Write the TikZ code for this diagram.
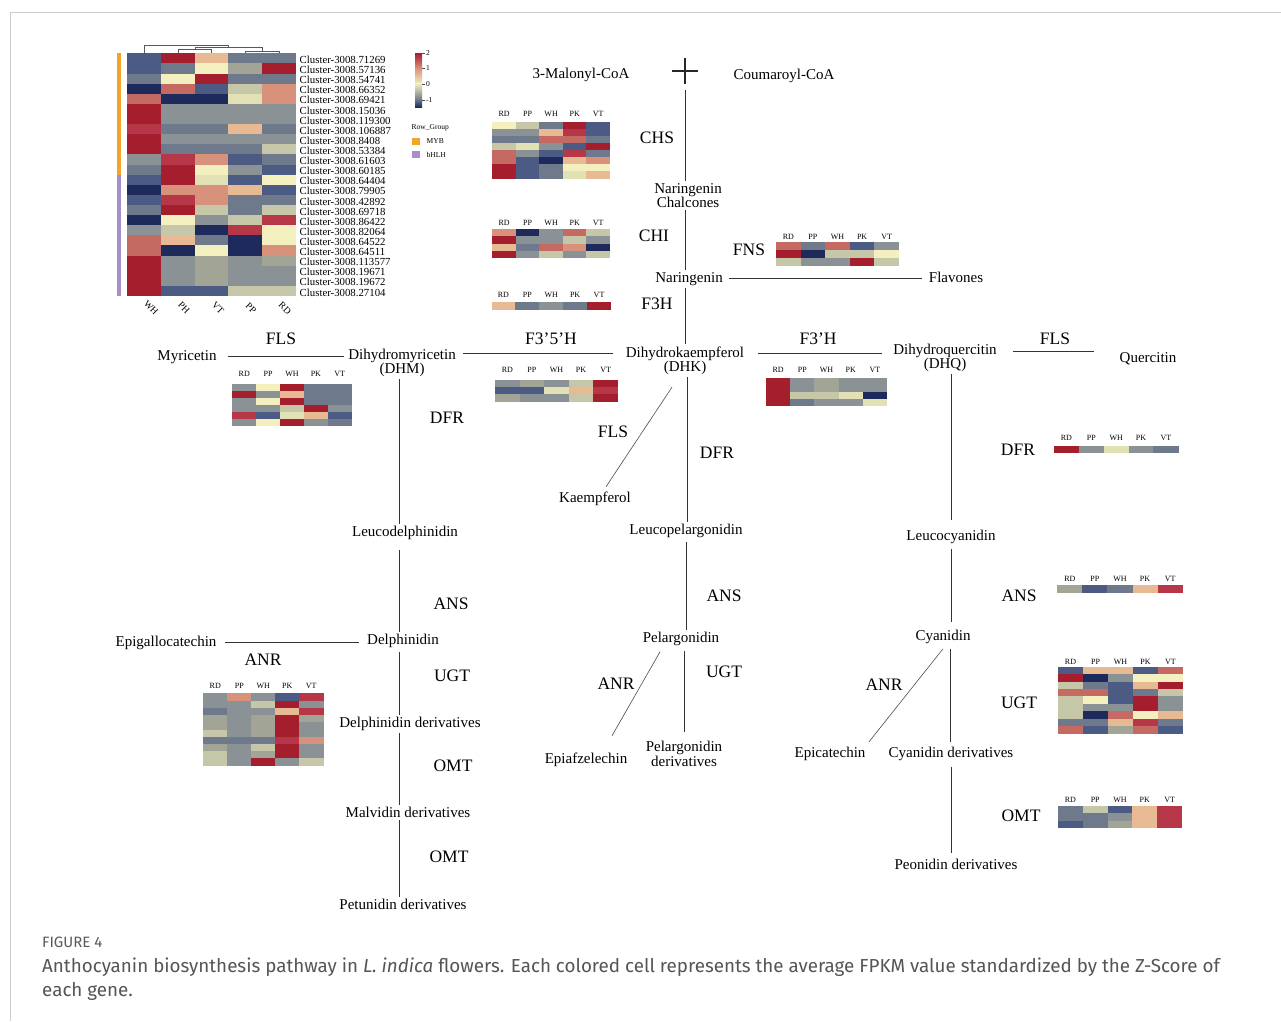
\documentclass[tikz,border=0pt]{standalone}
\usepackage{fontspec}
\setmainfont{Liberation Serif}
\newfontfamily\capfont{Fira Sans}
\usetikzlibrary{calc}
\definecolor{cN}{HTML}{1E2A5C}
\definecolor{cB}{HTML}{4B5B84}
\definecolor{cS}{HTML}{6E798C}
\definecolor{cG}{HTML}{8A9296}
\definecolor{cH}{HTML}{A2A595}
\definecolor{cL}{HTML}{C5C7A8}
\definecolor{cK}{HTML}{E2E1B5}
\definecolor{cY}{HTML}{F3EFBE}
\definecolor{cP}{HTML}{E8BA94}
\definecolor{cT}{HTML}{D8917A}
\definecolor{cO}{HTML}{C56A62}
\definecolor{cQ}{HTML}{B63848}
\definecolor{cR}{HTML}{A41E2E}
\definecolor{myb}{HTML}{F2A52B}
\definecolor{bhlh}{HTML}{A68FC9}
\definecolor{capgray}{HTML}{555555}
\newcommand{\hmap}[5]{%
  \foreach \rw [count=\ri] in {#5} {%
    \foreach \cl [count=\ci] in \rw {%
      \fill[\cl] ({#1+(\ci-1)*(#3)/5},{#2+(\ri-1)*(#4)}) rectangle ({#1+\ci*(#3)/5+0.3},{#2+\ri*(#4)+0.3});
    }
  }
}
\newcommand{\hlab}[4]{%
  \foreach \t [count=\ci] in {RD,PP,WH,PK,VT} {\node[hl] (#1-\ci) at ({#2+(\ci-0.5)*(#4)/5},#3) {\t};}
}
\begin{document}
\begin{tikzpicture}[x=1pt,y=-1pt,
  cmp/.style={font=\fontsize{15}{14.5}\selectfont, inner sep=2pt, align=center, yshift=-1.8pt},
  enz/.style={font=\fontsize{17.5}{18}\selectfont, inner sep=1pt, yshift=-1pt},
  clab/.style={font=\fontsize{10.8}{11}\selectfont, anchor=west, inner sep=0pt},
  hl/.style={font=\fontsize{8}{9}\selectfont, inner sep=0pt},
  lg/.style={font=\fontsize{7.5}{8}\selectfont, inner sep=0pt, anchor=west},
  ln/.style={line width=0.75pt, draw=black!80},
  dg/.style={line width=0.6pt, draw=black!70},
  ]
\useasboundingbox (0,0) rectangle (1281,1021);
\fill[white] (0,0) rectangle (1281,1021);
\draw[gray!40, line width=0.8pt] (1281,12) -- (10,12) -- (10,1021);

% ---------- big heatmap ----------
\hmap{127.3}{53.3}{168.4}{10.11}{
{cB,cR,cP,cS,cS},{cB,cS,cY,cH,cR},{cS,cY,cR,cS,cS},{cN,cO,cB,cL,cT},
{cO,cN,cN,cK,cT},{cR,cG,cG,cG,cG},{cR,cG,cG,cG,cG},{cQ,cS,cS,cP,cS},
{cR,cG,cG,cG,cG},{cR,cS,cS,cS,cL},{cG,cQ,cT,cB,cS},{cS,cR,cY,cG,cB},
{cB,cR,cK,cB,cY},{cN,cT,cT,cP,cB},{cB,cQ,cT,cS,cS},{cS,cR,cL,cS,cL},
{cN,cY,cG,cL,cQ},{cG,cL,cN,cQ,cY},{cO,cP,cS,cN,cY},{cO,cN,cY,cN,cT},
{cR,cG,cH,cG,cH},{cR,cG,cH,cG,cG},{cR,cG,cH,cG,cG},{cR,cB,cB,cL,cL}}
\fill[myb] (117,53.3) rectangle (120.5,174.6);
\fill[bhlh] (117,174.6) rectangle (120.5,296);
% dendrogram
\draw[gray!70!black, line width=0.6pt]
  (144.1,53.3) -- (144.1,45) -- (228.6,45) -- (228.6,47.5)
  (194.8,49.5) -- (194.8,47.5) -- (262.2,47.5) -- (262.2,51)
  (177.9,53.3) -- (177.9,49.5) -- (211.6,49.5) -- (211.6,53.3)
  (245.3,53.3) -- (245.3,51) -- (279.0,51) -- (279.0,53.3);
\foreach \n [count=\i] in {71269,57136,54741,66352,69421,15036,119300,106887,8408,53384,61603,60185,64404,79905,42892,69718,86422,82064,64522,64511,113577,19671,19672,27104}
  {\node[clab] (cl\i) at (299.5,{54.8+(\i-0.5)*10.11}) {Cluster-3008.\n};}
\foreach \t/\x [count=\i] in {WH/151,PH/184,VT/218,PP/251,RD/285}
  {\node[rotate=-45, font=\fontsize{9.5}{10}\selectfont, inner sep=0pt] (col\i) at (\x,308) {\t};}
% legend
\shade[top color=cR, bottom color=cT] (415,53) rectangle (422,68.5);
\shade[top color=cT, bottom color=cY] (415,68) rectangle (422,84);
\shade[top color=cY, bottom color=cS] (415,83.5) rectangle (422,100);
\shade[top color=cS, bottom color=cN] (415,99.5) rectangle (422,107);
\foreach \v/\y in {2/53.5,1/68.5,0/84,-1/100}
  {\draw[black!70, line width=0.4pt] (422,\y) -- (424.5,\y);
   \node[lg] (cb\v) at (426,\y) {\v};}
\node[lg] (rowgroup) at (411.5,127.5) {Row\_Group};
\fill[myb] (412.3,138) rectangle (419.5,145.3);
\node[lg] (mybl) at (426.5,141.5) {MYB};
\fill[bhlh] (412.3,150.8) rectangle (419.5,158.2);
\node[lg] (bhlhl) at (426.5,154.5) {bHLH};

% ---------- compounds ----------
\node[cmp] (mal) at (581,73) {3-Malonyl-CoA};
\node[cmp] (cou) at (784,74) {Coumaroyl-CoA};
\node[minimum size=26pt, inner sep=0pt] (plus) at (685,71) {};
\draw[black!85, line width=1.3pt] (plus.north) -- (plus.south) (plus.west) -- (plus.east);
\node[cmp] (chal) at (688,194) {Naringenin\\Chalcones};
\node[cmp] (nar) at (689,277) {Naringenin};
\node[cmp] (flav) at (956,276) {Flavones};
\node[cmp] (dhk) at (685,359) {Dihydrokaempferol\\(DHK)};
\node[cmp] (dhm) at (402,361) {Dihydromyricetin\\(DHM)};
\node[cmp] (myr) at (187,355) {Myricetin};
\node[cmp] (dhq) at (945,356) {Dihydroquercitin\\(DHQ)};
\node[cmp] (quer) at (1148,357) {Quercitin};
\node[cmp] (kaemp) at (595,497) {Kaempferol};
\node[cmp] (leucod) at (405,531) {Leucodelphinidin};
\node[cmp] (leucop) at (686,529) {Leucopelargonidin};
\node[cmp] (leucoc) at (951,535) {Leucocyanidin};
\node[cmp] (delph) at (403,639) {Delphinidin};
\node[cmp] (epigal) at (166,641) {Epigallocatechin};
\node[cmp] (delphd) at (410,722) {Delphinidin derivatives};
\node[cmp] (malv) at (408,811) {Malvidin derivatives};
\node[cmp] (petu) at (403,903) {Petunidin derivatives};
\node[cmp] (pel) at (681,637) {Pelargonidin};
\node[cmp] (epiaf) at (586,758) {Epiafzelechin};
\node[cmp] (peld) at (684,752) {Pelargonidin\\derivatives};
\node[cmp] (cyan) at (943,635) {Cyanidin};
\node[cmp] (epicat) at (830,752) {Epicatechin};
\node[cmp] (cyand) at (951,752) {Cyanidin derivatives};
\node[cmp] (peon) at (956,863) {Peonidin derivatives};

% ---------- enzymes ----------
\node[enz] (chs) at (657,137) {CHS};
\node[enz] (chi) at (654,235) {CHI};
\node[enz] (fns) at (749,249) {FNS};
\node[enz] (f3h) at (657,303) {F3H};
\node[enz] (fls1) at (281,338) {FLS};
\node[enz] (f35h) at (551,338) {F3'5'H};
\node[enz] (f3ph) at (818,338) {F3'H};
\node[enz] (fls2) at (1055,338) {FLS};
\node[enz] (dfr1) at (447,417) {DFR};
\node[enz] (fls3) at (613,431) {FLS};
\node[enz] (dfr2) at (717,452) {DFR};
\node[enz] (dfr3) at (1018,449) {DFR};
\node[enz] (ans1) at (451,603) {ANS};
\node[enz] (anr1) at (263,659) {ANR};
\node[enz] (ugt1) at (452,675) {UGT};
\node[enz] (omt1) at (453,765) {OMT};
\node[enz] (omt2) at (449,856) {OMT};
\node[enz] (ans2) at (724,595) {ANS};
\node[enz] (ugt2) at (724,671) {UGT};
\node[enz] (anr2) at (616,683) {ANR};
\node[enz] (ans3) at (1019,595) {ANS};
\node[enz] (ugt3) at (1019,702) {UGT};
\node[enz] (anr3) at (884,684) {ANR};
\node[enz] (omt3) at (1021,815) {OMT};

% ---------- connectors ----------
\draw[ln] ([yshift=-6pt]plus.south) -- (plus.south |- chal.north);
\draw[ln] (plus |- chal.south) -- (plus |- nar.north);
\draw[ln] (plus |- nar.south) -- (plus |- dhk.north);
\draw[ln, shorten <=4pt, shorten >=5pt] (nar.east) -- (nar.east -| flav.west);
\draw[ln, shorten <=9pt, shorten >=2pt] (myr.east) -- (myr.east -| dhm.west);
\draw[ln, shorten <=11pt, shorten >=5pt] ([yshift=7pt]dhk.west) -- ([yshift=7pt]dhk.west -| dhm.east);
\draw[ln, shorten <=12pt, shorten >=9pt] ([yshift=7pt]dhk.east) -- ([yshift=7pt]dhk.east -| dhq.west);
\draw[ln, shorten <=14pt, shorten >=23pt] ([yshift=6pt]dhq.east) -- ([yshift=6pt]dhq.east -| quer.west);
\draw[ln] ([xshift=-3pt]dhm.south) -- ([xshift=-3pt]dhm.south |- leucod.north);
\draw[ln, shorten <=8pt] ([xshift=-6pt]leucod.south) -- ([xshift=-6pt]leucod.south |- delph.north);
\draw[ln, shorten <=2pt] ([xshift=-4pt]delph.south) -- ([xshift=-4pt]delph.south |- delphd.north);
\draw[ln] ([xshift=-11pt]delphd.south) -- ([xshift=-11pt]delphd.south |- malv.north);
\draw[ln] ([xshift=-9pt]malv.south) -- ([xshift=-9pt]malv.south |- petu.north);
\draw[ln, shorten <=6pt, shorten >=6pt] (epigal.east) -- (epigal.east -| delph.west);
\draw[dg] ([xshift=-13pt,yshift=-10pt]dhk.south) -- ([xshift=11pt,yshift=3pt]kaemp.north);
\draw[ln] ([xshift=2pt]dhk.south) -- ([xshift=2pt]dhk.south |- leucop.north);
\draw[ln, shorten <=2pt] (leucop.south) -- (leucop.south |- pel.north);
\draw[dg] ([xshift=-21pt,yshift=-4pt]pel.south) -- ([xshift=26pt,yshift=15pt]epiaf.north);
\draw[ln, shorten <=3pt, shorten >=7pt] ([xshift=3pt]pel.south) -- ([xshift=3pt]pel.south |- peld.north);
\draw[ln, shorten >=8pt] ([xshift=6pt]dhq.south) -- ([xshift=6pt]dhq.south |- leucoc.north);
\draw[ln, shorten <=3pt, shorten >=6pt] (leucoc.south) -- (leucoc.south |- cyan.north);
\draw[dg] ([yshift=-3pt]cyan.south) -- ([xshift=39pt,yshift=3pt]epicat.north);
\draw[ln, shorten <=3pt, shorten >=3pt] ([xshift=7pt]cyan.south) -- ([xshift=7pt]cyan.south |- cyand.north);
\draw[ln, shorten <=4pt, shorten >=4pt] (cyand.south) -- (cyand.south |- peon.north);

% ---------- small heatmaps ----------
% CHS
\hlab{hchs}{492.3}{114}{117.7}
\hmap{492.3}{121.7}{117.7}{7.08}{
{cY,cL,cS,cR,cB},{cG,cG,cP,cQ,cB},{cS,cS,cO,cO,cS},{cL,cK,cG,cB,cR},
{cO,cG,cB,cQ,cS},{cO,cB,cN,cP,cT},{cR,cB,cS,cY,cY},{cR,cB,cS,cK,cP}}
% CHI
\hlab{hchi}{492.3}{222.7}{117.7}
\hmap{492.3}{229.3}{117.7}{7.1}{
{cT,cN,cG,cO,cL},{cR,cG,cG,cL,cG},{cP,cS,cO,cT,cN},{cR,cG,cL,cG,cL}}
% FNS
\hlab{hfns}{776}{236.7}{123}
\hmap{776}{242.3}{123}{7.8}{
{cO,cS,cO,cB,cG},{cR,cN,cL,cL,cY},{cL,cG,cG,cR,cL}}
% F3H
\hlab{hf3h}{491.5}{294.5}{119.5}
\hmap{491.5}{301.7}{119.5}{7.6}{{cP,cS,cG,cS,cR}}
% FLS left
\hlab{hfls}{232.3}{374}{119.4}
\hmap{232.3}{383.8}{119.4}{7}{
{cG,cY,cR,cS,cS},{cR,cG,cP,cS,cS},{cG,cY,cR,cS,cS},{cG,cG,cL,cR,cG},
{cQ,cB,cK,cP,cB},{cG,cY,cR,cG,cS}}
% F3'5'H
\hlab{hf35}{495}{369.5}{123}
\hmap{495}{380}{123}{7.2}{
{cG,cH,cG,cL,cR},{cB,cB,cK,cP,cQ},{cH,cG,cG,cL,cR}}
% F3'H
\hlab{hf3p}{766}{370}{121}
\hmap{766}{378}{121}{7}{
{cR,cG,cH,cG,cG},{cR,cG,cH,cG,cG},{cR,cL,cL,cK,cN},{cR,cS,cG,cG,cK}}
% DFR right
\hlab{hdfr}{1054}{437.5}{124.3}
\hmap{1054}{445.5}{124.3}{6.8}{{cR,cG,cK,cG,cS}}
% ANS right
\hlab{hans}{1057.3}{578.5}{125.4}
\hmap{1057.3}{585}{125.4}{7.2}{{cH,cB,cS,cP,cQ}}
% UGT right
\hlab{hugt}{1058}{662}{125}
\hmap{1058}{666.7}{125}{7.4}{
{cB,cP,cP,cB,cO},{cR,cN,cG,cY,cY},{cL,cS,cB,cP,cR},{cO,cO,cB,cS,cL},
{cL,cY,cB,cR,cG},{cL,cG,cG,cR,cG},{cL,cN,cO,cY,cP},{cS,cS,cP,cQ,cS},
{cO,cB,cH,cO,cB}}
% OMT right
\hlab{homt}{1058}{799.5}{124}
\hmap{1058}{806}{124}{7.33}{
{cS,cL,cB,cP,cQ},{cS,cS,cG,cP,cQ},{cB,cS,cH,cP,cQ}}
% ANR left
\hlab{hanr}{203.3}{685.7}{120}
\hmap{203.3}{693.3}{120}{7.24}{
{cG,cT,cG,cB,cQ},{cG,cG,cL,cR,cG},{cS,cG,cG,cP,cQ},{cH,cG,cH,cR,cH},
{cH,cG,cH,cR,cG},{cL,cG,cH,cR,cG},{cS,cS,cS,cQ,cT},{cH,cG,cL,cR,cG},
{cL,cG,cH,cR,cG},{cL,cG,cR,cG,cL}}

% ---------- caption ----------
\node[anchor=west, inner sep=0pt, text=black!65, font=\capfont\fontsize{15}{15}\selectfont] (figlab) at (42,942) {FIGURE 4};
\node[anchor=west, inner sep=0pt, text=capgray, font=\capfont\fontsize{18.8}{19}\selectfont] (cap1) at (42,967)
  {Anthocyanin biosynthesis pathway in \textit{L. indica} flowers. Each colored cell represents the average FPKM value standardized by the Z-Score of};
\node[anchor=west, inner sep=0pt, text=capgray, font=\capfont\fontsize{18.8}{19}\selectfont] (cap2) at (42,991) {each gene.};
\end{tikzpicture}
\end{document}
